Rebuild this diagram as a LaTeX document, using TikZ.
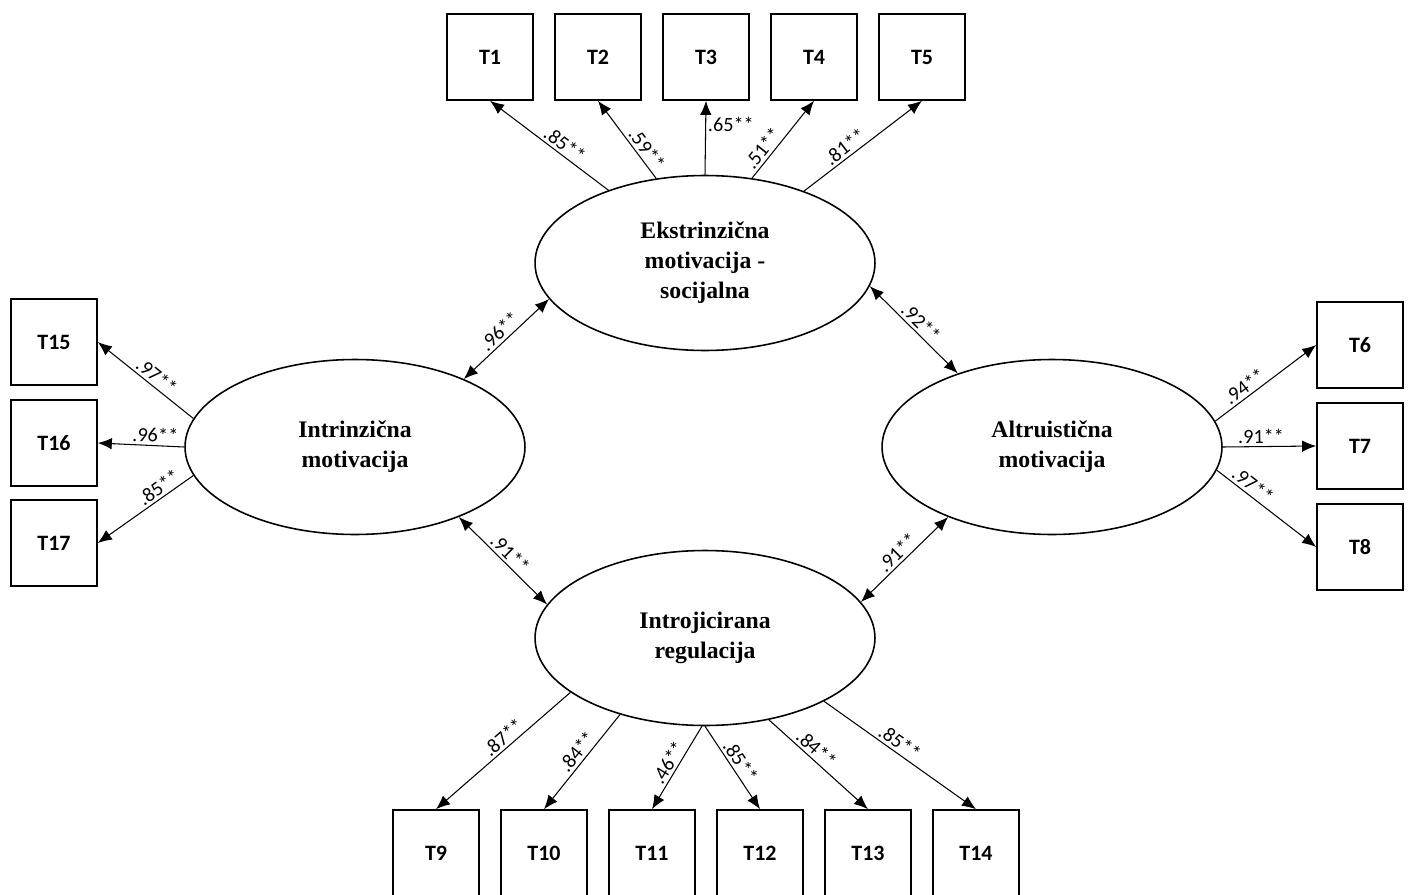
\documentclass[tikz,border=0pt]{standalone}
\usepackage{fontspec}
\setmainfont{Liberation Serif}
\newfontfamily\calib{Carlito}
\usetikzlibrary{arrows.meta,shapes.geometric}

\begin{document}
\begin{tikzpicture}
  [x=0.02cm,y=-0.02cm,
   obs/.style={draw,line width=0.9pt,minimum width=1.72cm,minimum height=1.72cm,inner sep=0pt,font=\calib\bfseries\fontsize{12.5}{14}\selectfont},
   lat/.style={draw,ellipse,line width=0.9pt,minimum width=6.8cm,minimum height=3.5cm,align=center,font=\bfseries\fontsize{13.5}{17}\selectfont},
   lbl/.style={sloped,above,inner sep=1.5pt,font=\calib\fontsize{11.5}{13}\selectfont},
   load/.style={line width=0.6pt,-{Latex[length=8pt,width=6.5pt]}},
   cov/.style={line width=0.6pt,{Latex[length=8pt,width=6.5pt]}-{Latex[length=8pt,width=6.5pt]}}]
  \useasboundingbox (0,0) rectangle (1412,895);

  % latent factors
  \node[lat] (ext) at (705,263) {Ekstrinzična\\motivacija -\\socijalna};
  \node[lat] (intr) at (355,447) {Intrinzična\\motivacija};
  \node[lat] (altr) at (1052,447) {Altruistična\\motivacija};
  \node[lat] (introj) at (705,638) {Introjicirana\\regulacija};

  % items
  \foreach \n/\x in {1/490,2/598,3/706,4/814,5/922}
    \node[obs] (T\n) at (\x,57) {T\n};
  \foreach \n/\y in {15/342,16/443,17/543}
    \node[obs] (T\n) at (54,\y) {T\n};
  \foreach \n/\y in {6/345,7/446,8/547}
    \node[obs] (T\n) at (1360,\y) {T\n};
  \foreach \n/\x in {9/436,10/544,11/652,12/760,13/868,14/976}
    \node[obs] (T\n) at (\x,853) {T\n};

  % loadings
  \foreach \a/\to/\v/\p in {143/T1/.85/0.42,120/T2/.59/0.3,61/T4/.51/0.3,36/T5/.81/0.4}
    \draw[load] (ext.\a) -- node[lbl,pos=\p] {\v**} (\to.south);
  \draw[load] (ext.north) -- node[right,pos=0.68,inner sep=1pt,font=\calib\fontsize{11.5}{13}\selectfont] {.65**} (T3.south);
  \foreach \a/\to/\v/\p in {170/T15/.97/0.45,180/T16/.96/0.34,190/T17/.85/0.3}
    \draw[load] (intr.\a) -- node[lbl,pos=\p] {\v**} (\to.east);
  \foreach \a/\to/\v/\p in {9/T6/.94/0.35,0/T7/.91/0.41,352/T8/.97/0.3}
    \draw[load] (altr.\a) -- node[lbl,pos=\p] {\v**} (\to.west);
  \foreach \a/\to/\v/\p in {202/T9/.87/0.45,222/T10/.84/0.46,268/T11/.46/0.5,270/T12/.85/0.49,308/T13/.84/0.41,332/T14/.85/0.46}
    \draw[load] (introj.\a) -- node[lbl,pos=\p] {\v**} (\to.north);

  % correlations
  \draw[cov] (ext.193) -- node[lbl] {.96**} (intr.32);
  \draw[cov] (ext.352) -- node[lbl] {.92**} (altr.142);
  \draw[cov] (intr.326) -- node[lbl] {.91**} (introj.168);
  \draw[cov] (introj.13) -- node[lbl] {.91**} (altr.214);

\end{tikzpicture}
\end{document}
